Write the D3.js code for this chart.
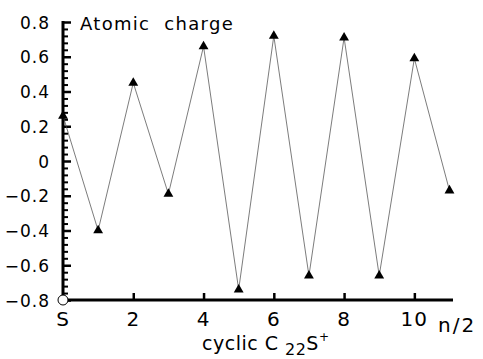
<!DOCTYPE html>
<html>
<head>
<meta charset="utf-8">
<script src="https://cdn.jsdelivr.net/npm/d3@7"></script>
<style>
  body { margin: 0; background: #fff; }
  text { font-family: "DejaVu Sans", Verdana, sans-serif; fill: #000; white-space: pre; }
</style>
</head>
<body>
<div id="graphic"></div>
<script>
// data
const sites = [0, 1, 2, 3, 4, 5, 6, 7, 8, 9, 10, 11];
const charge = [0.26, -0.40, 0.45, -0.19, 0.66, -0.74, 0.72, -0.66, 0.71, -0.66, 0.59, -0.17];
const yTicks = [-0.8, -0.6, -0.4, -0.2, 0, 0.2, 0.4, 0.6, 0.8];
const xTicks = [2, 4, 6, 8, 10];

const W = 483, H = 359;

const svg = d3.select("#graphic").append("svg")
  .attr("width", W)
  .attr("height", H);

const x = d3.scaleLinear().domain([0, 11.1]).range([63, 453]);
const y = d3.scaleLinear().domain([-0.8, 0.8]).range([300, 22]);

// y axis: minor ticks every 0.04, inward
const minor = d3.range(-0.8, 0.8001, 0.04);
const yAxis = d3.axisRight(y).tickValues(minor).tickSize(5).tickFormat("");
const gy = svg.append("g").attr("transform", `translate(${x(0)},0)`).call(yAxis);
gy.select(".domain").remove();
gy.selectAll(".tick line").attr("stroke", "#000").attr("stroke-width", 2);
gy.selectAll(".tick").filter(d => yTicks.some(t => Math.abs(t - d) < 1e-6))
  .select("line").attr("x2", 8).attr("stroke-width", 2.5);

// y labels
svg.append("g").selectAll("text")
  .data(yTicks)
  .enter().append("text")
  .attr("x", 50)
  .attr("y", d => y(d) + 6.5)
  .attr("text-anchor", "end")
  .style("font-size", "17px")
  .style("letter-spacing", "1px")
  .text(d => d === 0 ? "0" : d3.format(".1f")(d));

// x axis ticks pointing up
const xAxis = d3.axisTop(x).tickValues(xTicks).tickSize(7).tickFormat("");
const gx = svg.append("g").attr("transform", `translate(0,${y(-0.8)})`).call(xAxis);
gx.select(".domain").remove();
gx.selectAll(".tick line").attr("stroke", "#000").attr("stroke-width", 2.5);

// axis lines
svg.append("line")
  .attr("x1", x(0)).attr("x2", x(11.1))
  .attr("y1", y(-0.8)).attr("y2", y(-0.8))
  .attr("stroke", "#000").attr("stroke-width", 3);
svg.append("line")
  .attr("x1", x(0)).attr("x2", x(0))
  .attr("y1", y(-0.8)).attr("y2", y(0.8) - 1)
  .attr("stroke", "#000").attr("stroke-width", 3);

// x labels
svg.append("g").selectAll("text")
  .data([0].concat(xTicks))
  .enter().append("text")
  .attr("x", d => x(d))
  .attr("y", 326)
  .attr("text-anchor", "middle")
  .style("font-size", "20px")
  .style("letter-spacing", "1px")
  .text(d => d === 0 ? "S" : d);

// line + triangles
const line = d3.line().x(d => x(d[0])).y(d => y(d[1]));
const pts = sites.map((s, i) => [s, charge[i]]);
svg.append("path")
  .datum(pts)
  .attr("d", line)
  .attr("fill", "none")
  .attr("stroke", "#444")
  .attr("stroke-width", 0.7);

svg.append("g").selectAll("path")
  .data(pts)
  .enter().append("path")
  .attr("d", d3.symbol().type(d3.symbolTriangle).size(42))
  .attr("transform", d => `translate(${x(d[0])},${y(d[1])})`)
  .attr("fill", "#000");

// open circle at origin
svg.append("circle")
  .attr("cx", x(0)).attr("cy", y(-0.8)).attr("r", 5)
  .attr("fill", "#fff").attr("stroke", "#000").attr("stroke-width", 1);

// titles
svg.append("text")
  .attr("x", 80).attr("y", 30)
  .style("font-size", "18px")
  .style("letter-spacing", "1.3px")
  .text("Atomic  charge");

svg.append("text")
  .attr("x", 438).attr("y", 332)
  .style("font-size", "20px")
  .style("letter-spacing", "2px")
  .text("n/2");

const cap = svg.append("text")
  .attr("x", 202).attr("y", 350)
  .style("font-size", "19px")
  .style("letter-spacing", "0.5px");
cap.append("tspan").text("cyclic C ");
cap.append("tspan").attr("dy", 5).style("font-size", "16px").text("22");
cap.append("tspan").attr("dy", -5).text("S");
cap.append("tspan").attr("dy", -9).style("font-size", "12px").text("+");
</script>
</body>
</html>
